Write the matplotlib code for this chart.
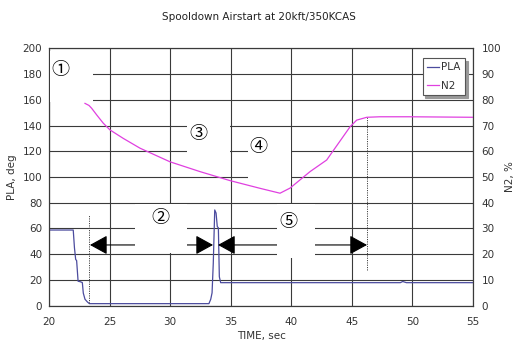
import numpy as np
import matplotlib
matplotlib.use("Agg")
import matplotlib.pyplot as plt
from matplotlib.patches import Rectangle

# PLA trace, deg (left axis)
pla_t = [20.0, 22.0, 22.1, 22.2, 22.28, 22.4, 22.56, 22.75, 22.83, 22.97, 23.16, 23.33,
         33.2, 33.35, 33.46, 33.56, 33.68, 33.79, 33.89, 33.98, 34.06, 34.17,
         49.0, 49.2, 49.5, 55.0]
pla_deg = [58.8, 58.8, 45.0, 36.0, 35.0, 19.0, 18.7, 18.0, 9.8, 5.0, 3.0, 1.6,
           1.6, 5.0, 10.0, 33.0, 74.4, 72.0, 61.5, 60.5, 22.5, 17.9,
           17.9, 18.8, 17.9, 17.9]

# N2 trace, % (right axis); NaN = no data recorded
n2_t = [20.0, 20.02, 20.05, 22.97, 23.3, 23.52, 23.94, 24.48, 25.03, 26.13, 27.51,
        29.99, 32.46, 34.94, 37.42, 39.07, 39.9, 41.55, 42.92, 44.85, 45.4, 46.23,
        47.32, 49.8, 55.0]
n2_pct = [83.4, 80.0, np.nan, 78.6, 77.8, 76.7, 74.1, 70.9, 68.3, 65.0, 61.2,
          55.9, 52.1, 48.6, 45.6, 43.7, 45.7, 52.1, 56.6, 69.5, 72.1, 73.2,
          73.4, 73.4, 73.2]

# phase labels: (label, t, deg) and their white boxes (t0, t1, deg0, deg1)
phase_labels = ["\u2460", "\u2461", "\u2462", "\u2463", "\u2464"]
phase_t = [20.91, 29.16, 32.3, 37.25, 39.73]
phase_deg = [183.4, 68.1, 133.4, 123.5, 65.3]
phase_boxes = [(20.08, 23.63, 158.3, 198.0),
               (27.1, 31.39, 41.0, 79.0),
               (31.39, 34.95, 115.6, 146.0),
               (36.43, 39.95, 95.3, 128.8),
               (38.82, 41.96, 37.0, 79.0)]

# span arrows (start, end) at PLA level
arrow_spans = [(23.38, 33.54), (33.95, 46.25)]
arrow_level = 47.2

# dotted markers (t, deg low, deg high)
marker_t = [23.33, 46.28]
marker_lo = [2.0, 27.7]
marker_hi = [70.5, 146.6]

fig = plt.figure(figsize=(5.17, 3.45), dpi=100)
ax = fig.add_axes([0.0948, 0.1139, 0.8201, 0.7461])
ax2 = ax.twinx()

grid_c = "#3a3a3a"
ax.set_xlim(20, 55)
ax.set_ylim(0, 200)
ax2.set_ylim(0, 100)
ax.set_xticks(np.arange(20, 56, 5))
ax.set_yticks(np.arange(0, 201, 20))
ax2.set_yticks(np.arange(0, 101, 10))
ax.grid(True, color=grid_c, lw=0.8, zorder=0)
ax.set_axisbelow(True)

for a in (ax, ax2):
    for s in a.spines.values():
        s.set_color(grid_c)
        s.set_linewidth(0.8)
ax.tick_params(axis="x", length=0, pad=8, labelsize=7.5, labelcolor="#333333")
ax.tick_params(axis="y", length=0, pad=5, labelsize=7.5, labelcolor="#333333")
ax2.tick_params(axis="y", length=0, pad=6, labelsize=7.5, labelcolor="#333333")

line_pla, = ax.plot(pla_t, pla_deg, color="#4b4b9e", lw=0.9, zorder=2, label="PLA")
for t, lo, hi in zip(marker_t, marker_lo, marker_hi):
    ax.plot([t, t], [lo, hi], color="#444444", lw=0.7, ls=(0, (1.2, 1.2)), zorder=2)
for t0, t1 in arrow_spans:
    ax.annotate("", xy=(t1, arrow_level), xytext=(t0, arrow_level),
                arrowprops=dict(arrowstyle="<|-|>,head_length=0.4,head_width=0.22",
                                mutation_scale=27, color="black", lw=0.8,
                                shrinkA=0, shrinkB=0),
                zorder=2)

line_n2, = ax2.plot(n2_t, n2_pct, color="#e040e0", lw=0.9, zorder=2, label="N2")

for (t0, t1, d0, d1) in phase_boxes:
    ax2.add_patch(Rectangle((t0, d0), t1 - t0, d1 - d0, transform=ax.transData,
                            facecolor="white", edgecolor="none", zorder=3))
for lab, t, d in zip(phase_labels, phase_t, phase_deg):
    ax2.text(t, d, lab, transform=ax.transData, ha="center", va="center",
             fontsize=13, family=["Noto Sans CJK KR", "DejaVu Sans"], zorder=4)

ax.set_xlabel("TIME, sec", fontsize=7.5, color="#333333")
ax.set_ylabel("PLA, deg", fontsize=7.5, color="#333333")
ax2.set_ylabel("N2, %", fontsize=7.5, color="#333333", rotation=90)
ax.xaxis.set_label_coords(0.5, -0.1)
ax.yaxis.set_label_coords(-0.075, 0.5)
ax2.yaxis.set_label_coords(1.075, 0.5)

leg = ax2.legend([line_pla, line_n2], ["PLA", "N2"], loc="upper right",
                 bbox_to_anchor=(0.981, 0.962), borderaxespad=0, fontsize=7.5,
                 handlelength=1.2, handletextpad=0.2, labelspacing=0.8,
                 fancybox=False, framealpha=1, edgecolor="#555555",
                 shadow=dict(color="#999999", alpha=1))
leg.get_frame().set_linewidth(0.8)
for txt in leg.get_texts():
    txt.set_color("#333333")

fig.text(259 / 517, 1 - 17 / 345, "Spooldown Airstart at 20kft/350KCAS",
         ha="center", va="center", fontsize=7.5, color="#222222")

fig.savefig("out.png", dpi=100)
